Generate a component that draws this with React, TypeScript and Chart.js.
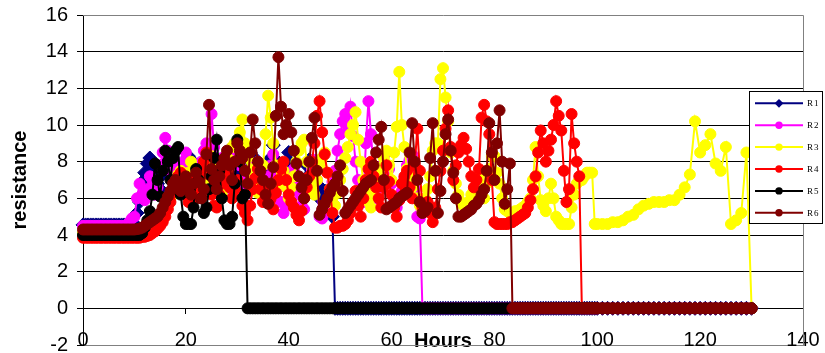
import React, { useEffect, useRef } from 'react';
import { Chart, registerables } from 'chart.js';

Chart.register(...registerables);

// Sampling grid: half-hour readings to 100 h, hourly afterwards.
const HOURS = [
  0, 0.5, 1, 1.5, 2, 2.5, 3, 3.5, 4, 4.5,
  5, 5.5, 6, 6.5, 7, 7.5, 8, 8.5, 9, 9.5,
  10, 10.5, 11, 11.5, 12, 12.5, 13, 13.5, 14, 14.5,
  15, 15.5, 16, 16.5, 17, 17.5, 18, 18.5, 19, 19.5,
  20, 20.5, 21, 21.5, 22, 22.5, 23, 23.5, 24, 24.5,
  25, 25.5, 26, 26.5, 27, 27.5, 28, 28.5, 29, 29.5,
  30, 30.5, 31, 31.5, 32, 32.5, 33, 33.5, 34, 34.5,
  35, 35.5, 36, 36.5, 37, 37.5, 38, 38.5, 39, 39.5,
  40, 40.5, 41, 41.5, 42, 42.5, 43, 43.5, 44, 44.5,
  45, 45.5, 46, 46.5, 47, 47.5, 48, 48.5, 49, 49.5,
  50, 50.5, 51, 51.5, 52, 52.5, 53, 53.5, 54, 54.5,
  55, 55.5, 56, 56.5, 57, 57.5, 58, 58.5, 59, 59.5,
  60, 60.5, 61, 61.5, 62, 62.5, 63, 63.5, 64, 64.5,
  65, 65.5, 66, 66.5, 67, 67.5, 68, 68.5, 69, 69.5,
  70, 70.5, 71, 71.5, 72, 72.5, 73, 73.5, 74, 74.5,
  75, 75.5, 76, 76.5, 77, 77.5, 78, 78.5, 79, 79.5,
  80, 80.5, 81, 81.5, 82, 82.5, 83, 83.5, 84, 84.5,
  85, 85.5, 86, 86.5, 87, 87.5, 88, 88.5, 89, 89.5,
  90, 90.5, 91, 91.5, 92, 92.5, 93, 93.5, 94, 94.5,
  95, 95.5, 96, 96.5, 97, 97.5, 98, 98.5, 99, 99.5,
  100, 101, 102, 103, 104, 105, 106, 107, 108, 109,
  110, 111, 112, 113, 114, 115, 116, 117, 118, 119,
  120, 121, 122, 123, 124, 125, 126, 127, 128, 129,
  130,
];

const SERIES_NAMES = ['R1', 'R2', 'R3', 'R4', 'R5', 'R6'];
const SERIES_COLORS = ['#000080', '#FF00FF', '#FFFF00', '#FF0000', '#000000', '#800000'];

const R1 = [
  4.55, 4.55, 4.55, 4.55, 4.55, 4.55, 4.55, 4.55, 4.55, 4.55,
  4.55, 4.55, 4.55, 4.55, 4.55, 4.55, 4.55, 4.55, 4.55, 4.6,
  4.6, 5.2, 5.8, 6.9, 7.4, 7.9, 8.2, 7.6, 7.2, 6.8,
  6.5, 7.3, 7.8, 8.1, 8.4, 7.9, 7.5, 7.0, 6.8, 7.4,
  7.6, 8.3, 8.1, 7.2, 7.0, 6.6, 6.4, 7.3, 7.9, 8.5,
  8.6, 7.7, 7.2, 6.5, 6.9, 7.6, 8.0, 8.4, 8.8, 8.0,
  7.4, 6.9, 6.6, 7.2, 7.7, 8.5, 8.3, 7.5, 6.9, 6.5,
  6.2, 7.0, 7.5, 8.2, 8.9, 8.1, 7.8, 7.0, 6.7, 7.6,
  8.5, 7.9, 7.3, 6.8, 6.4, 6.9, 7.0, 7.8, 8.1, 7.4,
  6.8, 6.3, 6.0, 6.5, 6.4, 5.8, 5.4, 5.0, 0, 0,
  0, 0, 0, 0, 0, 0, 0, 0, 0, 0,
  0, 0, 0, 0, 0, 0, 0, 0, 0, 0,
  0, 0, 0, 0, 0, 0, 0, 0, 0, 0,
  0, 0, 0, 0, 0, 0, 0, 0, 0, 0,
  0, 0, 0, 0, 0, 0, 0, 0, 0, 0,
  0, 0, 0, 0, 0, 0, 0, 0, 0, 0,
  0, 0, 0, 0, 0, 0, 0, 0, 0, 0,
  0, 0, 0, 0, 0, 0, 0, 0, 0, 0,
  0, 0, 0, 0, 0, 0, 0, 0, 0, 0,
  0, 0, 0, 0, 0, 0, 0, 0, 0, 0,
  0, 0, 0, 0, 0, 0, 0, 0, 0, 0,
  0, 0, 0, 0, 0, 0, 0, 0, 0, 0,
  0, 0, 0, 0, 0, 0, 0, 0, 0, 0,
  0,
];

const R2 = [
  4.5, 4.5, 4.5, 4.5, 4.5, 4.5, 4.5, 4.5, 4.5, 4.5,
  4.5, 4.5, 4.5, 4.5, 4.5, 4.5, 4.5, 4.5, 4.7, 4.9,
  5.0, 6.0, 6.8, 6.2, 5.9, 6.5, 7.2, 7.0, 6.2, 6.6,
  7.8, 8.5, 9.3, 8.6, 7.5, 7.8, 8.0, 7.4, 7.2, 8.0,
  8.5, 7.9, 7.7, 7.2, 7.0, 7.6, 8.0, 8.6, 9.0, 8.2,
  10.6, 8.8, 7.5, 7.9, 8.2, 7.4, 6.5, 7.0, 7.8, 8.3,
  8.7, 7.8, 7.0, 6.5, 6.3, 6.9, 7.4, 7.9, 8.0, 7.1,
  6.0, 6.6, 7.2, 7.8, 8.4, 7.4, 6.6, 5.8, 5.2, 5.6,
  6.8, 7.2, 7.6, 6.9, 6.2, 5.6, 5.4, 6.2, 7.0, 7.6,
  8.1, 7.0, 5.0, 4.9, 5.2, 5.7, 6.2, 6.9, 7.5, 8.6,
  9.5, 10.2, 10.6, 9.8, 11.0, 9.4, 8.0, 7.0, 6.5, 5.8,
  9.0, 11.3, 9.5, 7.5, 6.0, 6.6, 7.2, 7.9, 8.5, 7.6,
  6.8, 6.0, 5.5, 5.9, 6.4, 7.1, 7.8, 8.1, 8.4, 6.5,
  5.0, 4.9, 0, 0, 0, 0, 0, 0, 0, 0,
  0, 0, 0, 0, 0, 0, 0, 0, 0, 0,
  0, 0, 0, 0, 0, 0, 0, 0, 0, 0,
  0, 0, 0, 0, 0, 0, 0, 0, 0, 0,
  0, 0, 0, 0, 0, 0, 0, 0, 0, 0,
  0, 0, 0, 0, 0, 0, 0, 0, 0, 0,
  0, 0, 0, 0, 0, 0, 0, 0, 0, 0,
  0, 0, 0, 0, 0, 0, 0, 0, 0, 0,
  0, 0, 0, 0, 0, 0, 0, 0, 0, 0,
  0, 0, 0, 0, 0, 0, 0, 0, 0, 0,
  0,
];

const R3 = [
  4.1, 4.1, 4.1, 4.1, 4.1, 4.1, 4.1, 4.1, 4.1, 4.1,
  4.1, 4.1, 4.1, 4.1, 4.1, 4.1, 4.1, 4.1, 4.1, 4.1,
  4.1, 4.1, 4.1, 4.15, 4.2, 4.25, 4.3, 4.4, 4.5, 4.6,
  4.8, 5.0, 5.3, 5.6, 6.0, 6.5, 7.0, 7.3, 7.5, 7.0,
  6.8, 7.4, 8.0, 7.6, 7.2, 6.8, 6.5, 7.0, 7.6, 8.0,
  8.3, 7.6, 7.0, 6.6, 6.2, 6.9, 7.5, 8.1, 8.8, 9.0,
  9.0, 9.6, 10.3, 9.0, 8.2, 7.6, 7.0, 6.6, 6.3, 7.0,
  7.8, 9.5, 11.6, 10.4, 9.0, 7.8, 6.8, 7.1, 7.5, 6.6,
  6.0, 6.6, 7.2, 8.0, 8.6, 9.0, 9.2, 8.0, 7.0, 6.5,
  6.2, 7.0, 7.8, 8.2, 8.5, 7.4, 6.5, 6.0, 5.6, 6.3,
  7.0, 7.6, 8.2, 8.8, 9.5, 10.0, 10.7, 9.2, 8.0, 7.0,
  6.4, 5.8, 5.5, 6.2, 6.8, 7.3, 7.7, 8.2, 8.6, 7.8,
  7.0, 8.5, 9.9, 12.9, 10.0, 8.8, 7.6, 7.2, 6.6, 6.0,
  6.0, 5.6, 5.4, 6.0, 6.5, 7.2, 8.6, 9.0, 9.0, 12.5,
  13.1, 11.5, 10.2, 8.5, 7.5, 6.8, 6.2, 5.8, 5.6, 5.5,
  5.8, 6.2, 6.5, 7.0, 7.2, 6.4, 6.0, 6.8, 7.6, 8.3,
  8.3, 7.4, 6.8, 6.0, 5.4, 5.3, 5.2, 5.2, 5.3, 5.3,
  5.4, 5.5, 5.6, 5.8, 6.0, 7.0, 8.8, 7.2, 5.9, 5.6,
  5.3, 6.0, 6.8, 6.0, 5.0, 4.8, 4.6, 4.6, 4.6, 4.6,
  5.5, 6.2, 6.8, 7.0, 7.0, 7.2, 7.4, 7.4, 7.4, 4.6,
  4.6, 4.6, 4.6, 4.7, 4.7, 4.8, 5.0, 5.1, 5.4, 5.6,
  5.7, 5.8, 5.8, 5.8, 5.9, 5.9, 6.2, 6.6, 7.3, 10.2,
  8.5, 8.9, 9.5, 7.9, 7.5, 8.8, 4.6, 4.8, 5.2, 8.5,
  0,
];

const R4 = [
  3.85, 3.85, 3.85, 3.85, 3.85, 3.85, 3.85, 3.85, 3.85, 3.85,
  3.85, 3.85, 3.85, 3.85, 3.85, 3.85, 3.85, 3.85, 3.85, 3.85,
  3.85, 3.85, 3.85, 3.9, 3.9, 3.95, 4.0, 4.1, 4.2, 4.35,
  4.5, 4.7, 5.0, 5.4, 5.8, 6.3, 6.8, 7.2, 7.4, 6.9,
  6.5, 5.8, 7.0, 6.4, 6.0, 6.7, 7.5, 8.0, 8.5, 7.3,
  6.2, 5.6, 5.5, 6.2, 6.8, 7.1, 7.4, 6.6, 6.0, 6.5,
  7.0, 6.2, 5.6, 5.2, 4.8, 5.6, 6.5, 7.1, 7.6, 6.5,
  5.8, 6.2, 6.6, 6.0, 5.4, 6.3, 7.0, 7.6, 8.0, 7.0,
  6.2, 5.8, 5.5, 5.1, 4.8, 5.3, 6.0, 6.6, 7.2, 8.0,
  9.0, 10.5, 11.3, 9.6, 8.4, 7.4, 6.5, 5.2, 4.4, 4.4,
  4.5, 4.5, 4.6, 4.8, 5.2, 5.8, 6.4, 5.6, 5.0, 6.0,
  7.0, 7.6, 8.0, 7.2, 6.6, 6.0, 5.5, 6.6, 7.8, 6.9,
  6.2, 5.5, 5.0, 5.9, 6.8, 7.2, 7.5, 6.6, 6.0, 7.8,
  9.8, 7.5, 5.5, 5.6, 5.8, 5.2, 4.7, 5.5, 6.5, 7.5,
  8.6, 9.8, 10.8, 8.8, 7.0, 7.8, 8.5, 8.9, 9.3, 8.7,
  8.0, 7.2, 6.6, 7.0, 7.6, 10.4, 11.1, 10.2, 9.5, 7.0,
  4.7, 4.6, 4.6, 4.6, 4.6, 4.6, 4.7, 4.7, 4.8, 4.9,
  5.0, 5.1, 5.2, 5.5, 5.9, 6.5, 7.2, 8.5, 9.7, 9.0,
  8.0, 8.6, 9.2, 10.0, 11.3, 10.5, 9.7, 7.5, 5.8, 6.5,
  10.6, 9.0, 8.0, 7.2, 0, 0, 0, 0, 0, 0,
  0, 0, 0, 0, 0, 0, 0, 0, 0, 0,
  0, 0, 0, 0, 0, 0, 0, 0, 0, 0,
  0, 0, 0, 0, 0, 0, 0, 0, 0, 0,
  0,
];

const R5 = [
  4.0, 4.0, 4.0, 4.0, 4.0, 4.0, 4.0, 4.0, 4.0, 4.0,
  4.0, 4.0, 4.0, 4.0, 4.0, 4.0, 4.0, 4.0, 4.0, 4.0,
  4.0, 4.0, 4.0, 4.1, 4.4, 4.8, 5.3, 6.2, 7.9, 7.0,
  6.1, 7.5, 8.6, 8.0, 7.0, 8.2, 8.6, 8.8, 6.2, 5.0,
  4.6, 4.6, 4.6, 5.5, 7.6, 7.0, 6.0, 5.2, 5.5, 6.5,
  7.2, 8.2, 9.2, 7.5, 6.0, 4.8, 4.6, 4.6, 5.0, 6.8,
  9.2, 8.0, 6.0, 6.2, 0, 0, 0, 0, 0, 0,
  0, 0, 0, 0, 0, 0, 0, 0, 0, 0,
  0, 0, 0, 0, 0, 0, 0, 0, 0, 0,
  0, 0, 0, 0, 0, 0, 0, 0, 0, 0,
  0, 0, 0, 0, 0, 0, 0, 0, 0, 0,
  0, 0, 0, 0, 0, 0, 0, 0, 0, 0,
  0, 0, 0, 0, 0, 0, 0, 0, 0, 0,
  0, 0, 0, 0, 0, 0, 0, 0, 0, 0,
  0, 0, 0, 0, 0, 0, 0, 0, 0, 0,
  0, 0, 0, 0, 0, 0, 0, 0, 0, 0,
  0, 0, 0, 0, 0, 0, 0, 0, 0, 0,
  0, 0, 0, 0, 0, 0, 0, 0, 0, 0,
  0, 0, 0, 0, 0, 0, 0, 0, 0, 0,
  0, 0, 0, 0, 0, 0, 0, 0, 0, 0,
  0, 0, 0, 0, 0, 0, 0, 0, 0, 0,
  0, 0, 0, 0, 0, 0, 0, 0, 0, 0,
  0, 0, 0, 0, 0, 0, 0, 0, 0, 0,
  0,
];

const R6 = [
  4.3, 4.3, 4.3, 4.3, 4.3, 4.3, 4.3, 4.3, 4.3, 4.3,
  4.3, 4.3, 4.3, 4.3, 4.3, 4.3, 4.3, 4.3, 4.3, 4.3,
  4.3, 4.32, 4.35, 4.4, 4.5, 4.6, 4.7, 4.8, 4.9, 5.0,
  5.2, 5.5, 5.8, 6.1, 6.4, 6.8, 7.0, 6.7, 6.4, 6.8,
  7.2, 6.6, 6.2, 6.8, 7.4, 6.9, 6.0, 6.5, 8.4, 11.1,
  7.6, 7.0, 6.5, 7.2, 7.8, 8.2, 8.6, 7.8, 7.0, 8.0,
  9.0, 8.6, 8.2, 7.5, 6.8, 8.5, 10.3, 9.0, 8.0, 7.5,
  7.0, 6.2, 5.7, 6.8, 7.7, 10.5, 13.7, 11.0, 9.5, 10.0,
  10.6, 9.6, 8.6, 7.9, 7.2, 6.6, 6.0, 7.0, 8.0, 9.3,
  10.4, 7.5, 5.1, 5.4, 5.7, 6.0, 6.3, 6.6, 6.8, 7.2,
  7.8, 6.4, 5.2, 5.4, 5.6, 5.8, 6.0, 6.2, 6.4, 6.6,
  6.8, 6.9, 7.0, 7.8, 8.5, 9.2, 9.9, 7.0, 5.4, 5.5,
  5.6, 5.7, 5.8, 6.0, 6.1, 6.2, 6.3, 8.5, 10.1, 8.0,
  7.0, 5.8, 5.2, 5.3, 5.5, 8.2, 10.1, 7.5, 5.2, 6.4,
  8.0, 9.5, 10.3, 8.6, 7.4, 6.0, 5.0, 5.0, 5.1, 5.2,
  5.3, 5.4, 5.6, 5.7, 5.9, 6.2, 6.5, 7.5, 10.1, 8.5,
  7.0, 9.0, 10.8, 8.0, 5.7, 6.5, 7.9, 0, 0, 0,
  0, 0, 0, 0, 0, 0, 0, 0, 0, 0,
  0, 0, 0, 0, 0, 0, 0, 0, 0, 0,
  0, 0, 0, 0, 0, 0, 0, 0, 0, 0,
  0, 0, 0, 0, 0, 0, 0, 0, 0, 0,
  0, 0, 0, 0, 0, 0, 0, 0, 0, 0,
  0, 0, 0, 0, 0, 0, 0, 0, 0, 0,
  0,
];

const SERIES_VALUES = [R1, R2, R3, R4, R5, R6];

const X_TICKS = [0, 20, 40, 60, 80, 100, 120, 140];
const Y_TICKS = [-2, 0, 2, 4, 6, 8, 10, 12, 14, 16];
const X_TITLE = 'Hours';
const Y_TITLE = 'resistance';

const SANS = "'Liberation Sans', Arial, sans-serif";
const SERIF = "'Liberation Serif', 'Times New Roman', serif";

const framePlugin = {
  id: 'frameAndLegend',
  beforeDatasetsDraw(chart: any) {
    const { ctx, chartArea } = chart;
    const { left, top, right, bottom } = chartArea;
    ctx.save();
    ctx.strokeStyle = '#808080';
    ctx.lineWidth = 1;
    ctx.beginPath();
    ctx.moveTo(left, Math.round(top) + 0.5);
    ctx.lineTo(Math.round(right) + 0.5, Math.round(top) + 0.5);
    ctx.lineTo(Math.round(right) + 0.5, bottom);
    ctx.stroke();
    ctx.restore();
  },
  afterDraw(chart: any) {
    const { ctx } = chart;
    const bx = 749.5, by = 91.5, bw = 73, bh = 132;
    ctx.save();
    ctx.fillStyle = '#FFFFFF';
    ctx.fillRect(bx, by, bw, bh);
    ctx.strokeStyle = '#000000';
    ctx.lineWidth = 1;
    ctx.strokeRect(bx, by, bw, bh);
    SERIES_NAMES.forEach((name, i) => {
      const y = 103.3 + i * 21.9;
      const color = SERIES_COLORS[i];
      ctx.strokeStyle = color;
      ctx.lineWidth = 2;
      ctx.beginPath();
      ctx.moveTo(755, y);
      ctx.lineTo(803, y);
      ctx.stroke();
      ctx.fillStyle = color;
      ctx.beginPath();
      if (i === 0) {
        const r = 4.4;
        ctx.moveTo(779, y - r);
        ctx.lineTo(779 + r, y);
        ctx.lineTo(779, y + r);
        ctx.lineTo(779 - r, y);
        ctx.closePath();
      } else {
        ctx.arc(779, y, 3.7, 0, Math.PI * 2);
      }
      ctx.fill();
      ctx.fillStyle = '#000000';
      ctx.font = `9px ${SERIF}`;
      (ctx as any).letterSpacing = '1px';
      ctx.textAlign = 'left';
      ctx.textBaseline = 'middle';
      ctx.fillText(name, 807, y + 0.5);
    });
    ctx.restore();
  },
};

export default function App() {
  const canvasRef = useRef<HTMLCanvasElement | null>(null);

  useEffect(() => {
    const canvas = canvasRef.current;
    if (!canvas) return;

    const datasets = SERIES_NAMES.map((name, i) => ({
      label: name,
      data: HOURS.map((h, j) => ({ x: h, y: SERIES_VALUES[i][j] })),
      borderColor: SERIES_COLORS[i],
      backgroundColor: SERIES_COLORS[i],
      pointBackgroundColor: SERIES_COLORS[i],
      pointBorderColor: SERIES_COLORS[i],
      pointBorderWidth: 1,
      pointRadius: i === 0 ? 7 : 5.5,
      pointStyle: i === 0 ? 'rectRot' : 'circle',
      borderWidth: 2,
      tension: 0,
      fill: false,
      clip: false as any,
      order: SERIES_NAMES.length - i,
    }));

    const chart = new Chart(canvas, {
      type: 'line',
      data: { datasets },
      options: {
        animation: false,
        responsive: false,
        devicePixelRatio: 1,
        layout: { padding: { top: 15, right: 22, bottom: 0, left: 0 } },
        plugins: { legend: { display: false }, tooltip: { enabled: false } },
        scales: {
          x: {
            type: 'linear',
            position: 'bottom',
            min: 0,
            max: 140,
            afterBuildTicks: (s: any) => { s.ticks = X_TICKS.map((v) => ({ value: v })); },
            afterFit: (s: any) => { s.height = 8; s.paddingLeft = 0; s.paddingRight = 0; },
            grid: { drawOnChartArea: false, drawTicks: false },
            border: { display: true, color: '#808080', width: 1 },
            ticks: {
              mirror: true,
              padding: -7,
              color: '#000000',
              maxRotation: 0,
              autoSkip: false,
              font: { family: SANS, size: 20 },
            },
            title: {
              display: true,
              text: X_TITLE,
              color: '#000000',
              padding: 0,
              font: { family: SANS, size: 20, weight: 'bold' },
            },
          },
          x2: {
            type: 'linear',
            axis: 'x',
            position: { y: 0 } as any,
            min: 0,
            max: 140,
            afterBuildTicks: (s: any) => { s.ticks = X_TICKS.map((v) => ({ value: v })); },
            grid: { drawOnChartArea: false, drawTicks: true, tickLength: 5, tickColor: '#000000' },
            border: { display: true, color: '#000000', width: 1 },
            ticks: { display: false },
          },
          y: {
            type: 'linear',
            position: 'left',
            min: -2,
            max: 16,
            afterBuildTicks: (s: any) => { s.ticks = Y_TICKS.map((v) => ({ value: v })); },
            afterFit: (s: any) => { s.width = 83; s.paddingTop = 0; s.paddingBottom = 0; },
            grid: {
              color: (c: any) => (c.tick && (c.tick.value === 16 || c.tick.value === -2) ? 'rgba(0,0,0,0)' : '#000000'),
              tickColor: '#000000',
              tickLength: 6,
              lineWidth: 1,
            },
            border: { display: true, color: '#000000', width: 1 },
            ticks: {
              padding: 9,
              color: '#000000',
              font: { family: SANS, size: 20 },
            },
            title: {
              display: true,
              text: Y_TITLE,
              color: '#000000',
              padding: { top: 8, bottom: 0 },
              font: { family: SANS, size: 20, weight: 'bold' },
            },
          },
        },
      } as any,
      plugins: [framePlugin],
    });

    return () => chart.destroy();
  }, []);

  return (
    <div style={{ position: 'absolute', left: 0, top: 0, width: 825, height: 353, background: '#FFFFFF' }}>
      <canvas ref={canvasRef} width={825} height={353} style={{ display: 'block' }} />
    </div>
  );
}
